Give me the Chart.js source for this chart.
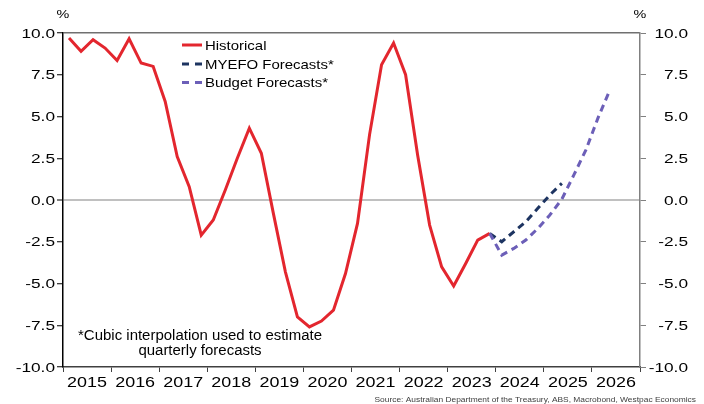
<!DOCTYPE html>
<html>
<head>
<meta charset="utf-8">
<script src="https://cdn.jsdelivr.net/npm/chart.js@4.4.1/dist/chart.umd.min.js"></script>
<style>
  body { margin: 0; background: #fff; }
  canvas { display: block; }
</style>
</head>
<body>
<canvas id="deficitChart" width="704" height="404"></canvas>
<script>
const years = [2015, 2016, 2017, 2018, 2019, 2020, 2021, 2022, 2023, 2024, 2025, 2026];
const yTicks = [-10, -7.5, -5, -2.5, 0, 2.5, 5, 7.5, 10];

// Quarterly, Mar-15 to Dec-23
const historical = [
    9.7, 8.9, 9.6, 9.1, 8.35, 9.65, 8.2, 8.0,
    5.9, 2.6, 0.8, -2.1, -1.2, 0.6, 2.5, 4.3,
    2.8, -0.8, -4.3, -7.0, -7.6, -7.25, -6.6, -4.4,
    -1.4, 3.9, 8.1, 9.4, 7.5, 2.7, -1.5, -4.0,
    -5.15, -3.8, -2.4, -2.0
];

// Forecasts pick up from the last historical quarter (Dec-23)
const forecastStart = 35;
const myefo = [-2.0, -2.5, -1.9, -1.3, -0.5, 0.3, 1.0];
const budget = [-2.0, -3.3, -2.9, -2.4, -1.7, -0.9, 0.05, 1.5, 3.0, 4.9, 6.6];

const noteLines = ['*Cubic interpolation used to estimate', 'quarterly forecasts'];
const sourceText = 'Source: Australian Department of the Treasury, ABS, Macrobond, Westpac Economics';

const RED = '#e3262e';
const NAVY = '#1d3461';
const PURPLE = '#6c5fb8';
const FONT = '"Liberation Sans", Arial, sans-serif';

function quarterX(i) {
    return years[0] + (i + 0.5) / 4;
}

function toPoints(values, offset) {
    return values.map((v, i) => ({ x: quarterX(i + offset), y: v }));
}

// Text is set a little wide, so stretch it horizontally around its anchor.
function wideText(ctx, text, x, y, size, align, stretch, color) {
    ctx.save();
    ctx.font = `${size}px ${FONT}`;
    ctx.fillStyle = color || '#000';
    ctx.textAlign = align;
    ctx.textBaseline = 'alphabetic';
    ctx.translate(x, y);
    ctx.scale(stretch, 1);
    ctx.fillText(text, 0, 0);
    ctx.restore();
}

const chartText = {
    id: 'chartText',
    afterDraw(chart) {
        const ctx = chart.ctx;
        const { x, y } = chart.scales;
        const area = chart.chartArea;

        // Axis labels, both sides
        yTicks.forEach(v => {
            const py = y.getPixelForValue(v) + 4.5;
            const label = v.toFixed(1);
            wideText(ctx, label, area.left - 8, py, 12.5, 'right', 1.38);
            wideText(ctx, label, 688, py, 12.5, 'right', 1.38);
        });
        years.forEach(yr => {
            wideText(ctx, String(yr), x.getPixelForValue(yr + 0.5), 387, 14, 'center', 1.28);
        });
        wideText(ctx, '%', area.left, 18, 11.5, 'center', 1.25);
        wideText(ctx, '%', area.right, 18, 11.5, 'center', 1.25);

        // Legend
        const legendY = [45, 64, 82.5];
        chart.data.datasets.slice().reverse().forEach((ds, i) => {
            ctx.save();
            ctx.strokeStyle = ds.borderColor;
            ctx.lineWidth = 3;
            ctx.setLineDash(ds.borderDash && ds.borderDash.length ? [7, 6] : []);
            ctx.beginPath();
            ctx.moveTo(182, legendY[i]);
            ctx.lineTo(202, legendY[i]);
            ctx.stroke();
            ctx.restore();
            wideText(ctx, ds.label, 205, legendY[i] + 4.8, 13, 'left', 1.15);
        });

        // Footnote and source
        wideText(ctx, noteLines[0], 200, 340, 14, 'center', 1.07);
        wideText(ctx, noteLines[1], 200, 355, 14, 'center', 1.07);
        wideText(ctx, sourceText, 696, 402, 7, 'right', 1.2, '#404040');
    }
};

const ctx = document.getElementById('deficitChart').getContext('2d');

new Chart(ctx, {
    type: 'line',
    data: {
        datasets: [
            {
                label: 'Budget Forecasts*',
                data: toPoints(budget, forecastStart),
                borderColor: PURPLE,
                borderWidth: 3,
                borderDash: [7, 5],
                pointRadius: 0,
                tension: 0
            },
            {
                label: 'MYEFO Forecasts*',
                data: toPoints(myefo, forecastStart),
                borderColor: NAVY,
                borderWidth: 3,
                borderDash: [7, 5],
                pointRadius: 0,
                tension: 0
            },
            {
                label: 'Historical',
                data: toPoints(historical, 0),
                borderColor: RED,
                borderWidth: 3,
                pointRadius: 0,
                tension: 0
            }
        ]
    },
    options: {
        responsive: false,
        animation: false,
        layout: { padding: { top: 33, right: 16, left: 0, bottom: 0 } },
        scales: {
            x: {
                type: 'linear',
                position: 'bottom',
                min: years[0],
                max: years[years.length - 1] + 1,
                afterBuildTicks: axis => {
                    axis.ticks = years.concat(years[years.length - 1] + 1).map(v => ({ value: v }));
                },
                afterFit: axis => { axis.height = 37; },
                ticks: { display: false },
                grid: {
                    drawOnChartArea: false,
                    tickLength: 5,
                    tickColor: '#404040',
                    tickWidth: 1
                },
                border: { color: '#404040', width: 1.5 }
            },
            y: {
                position: 'left',
                min: -10,
                max: 10,
                afterBuildTicks: axis => {
                    axis.ticks = yTicks.map(v => ({ value: v }));
                },
                afterFit: axis => { axis.width = 63; },
                ticks: { display: false },
                grid: {
                    color: c => {
                        if (!c.tick) return 'rgba(0,0,0,0)';
                        if (c.tick.value === 0) return '#c0c0c0';
                        if (c.tick.value === 10) return '#707070';
                        return 'rgba(0,0,0,0)';
                    },
                    lineWidth: c => (c.tick && c.tick.value === 0 ? 2 : 1.5),
                    tickLength: 6,
                    tickColor: '#000',
                    tickWidth: 1
                },
                border: { color: '#000', width: 1.5 }
            },
            y2: {
                position: 'right',
                min: -10,
                max: 10,
                afterBuildTicks: axis => {
                    axis.ticks = yTicks.map(v => ({ value: v }));
                },
                afterFit: axis => { axis.width = 48; },
                ticks: { display: false },
                grid: {
                    drawOnChartArea: false,
                    tickLength: 6,
                    tickColor: '#808080',
                    tickWidth: 1
                },
                border: { color: '#808080', width: 1.5 }
            }
        },
        plugins: {
            legend: { display: false },
            tooltip: { enabled: false }
        }
    },
    plugins: [chartText]
});
</script>
</body>
</html>
